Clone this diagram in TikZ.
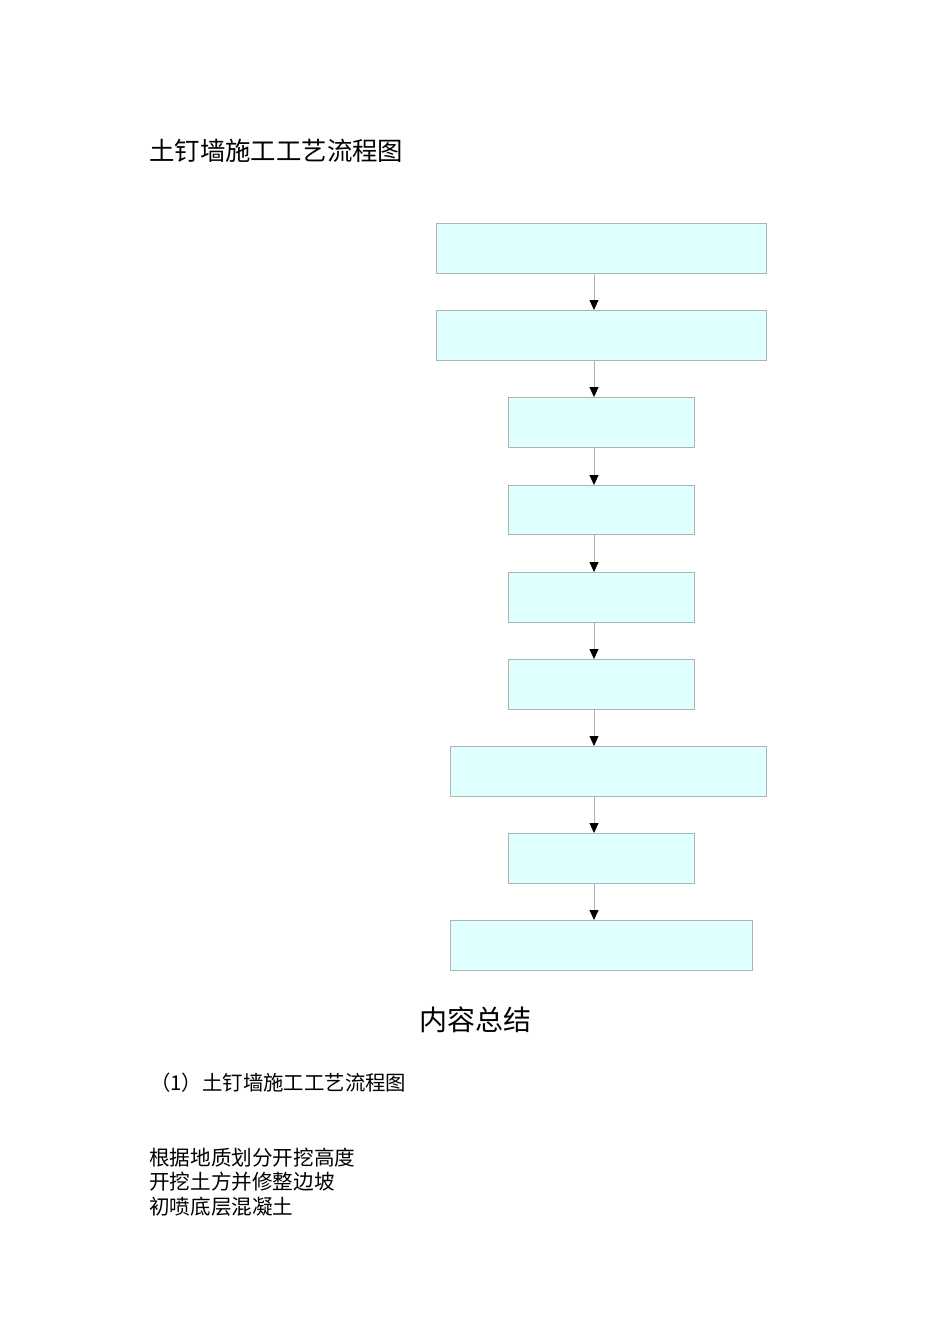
\documentclass[tikz,border=0pt]{standalone}
\usepackage{fontspec}
\newfontfamily\cjk{Noto Sans CJK SC}
\usetikzlibrary{arrows.meta}
\definecolor{boxfill}{HTML}{E0FFFF}
\definecolor{boxline}{HTML}{AEB4B4}
\begin{document}
\begin{tikzpicture}[x=1pt,y=-1pt,
  flowbox/.style={draw=boxline,fill=boxfill,line width=0.8pt},
  flowarrow/.style={draw=boxline,line width=0.8pt,-{Triangle[length=10pt,width=9pt,fill=black,color=black]}},
  txt/.style={inner sep=0pt,anchor=west,font=\cjk}]
\useasboundingbox (0,0) rectangle (950,1344);
\fill[white] (0,0) rectangle (950,1344);
\node[txt,font=\cjk\fontsize{25.4}{28}\selectfont] (title) at (149,151) {土钉墙施工工艺流程图};
% boxes
\draw[flowbox] (436,223) rectangle (766,273); \coordinate (b1) at (594,273);
\draw[flowbox] (436,310) rectangle (766,360); \coordinate (t2) at (594,310); \coordinate (b2) at (594,360);
\draw[flowbox] (508,397) rectangle (694,447); \coordinate (t3) at (594,397); \coordinate (b3) at (594,447);
\draw[flowbox] (508,485) rectangle (694,534); \coordinate (t4) at (594,485); \coordinate (b4) at (594,534);
\draw[flowbox] (508,572) rectangle (694,622); \coordinate (t5) at (594,572); \coordinate (b5) at (594,622);
\draw[flowbox] (508,659) rectangle (694,709); \coordinate (t6) at (594,659); \coordinate (b6) at (594,709);
\draw[flowbox] (450,746) rectangle (766,796); \coordinate (t7) at (594,746); \coordinate (b7) at (594,796);
\draw[flowbox] (508,833) rectangle (694,883); \coordinate (t8) at (594,833); \coordinate (b8) at (594,883);
\draw[flowbox] (450,920) rectangle (752,970); \coordinate (t9) at (594,920);
\draw[flowarrow] (b1) -- (t2);
\draw[flowarrow] (b2) -- (t3);
\draw[flowarrow] (b3) -- (t4);
\draw[flowarrow] (b4) -- (t5);
\draw[flowarrow] (b5) -- (t6);
\draw[flowarrow] (b6) -- (t7);
\draw[flowarrow] (b7) -- (t8);
\draw[flowarrow] (b8) -- (t9);
\node[txt,font=\cjk\fontsize{28}{32}\selectfont] (summary) at (419,1020) {内容总结};
\node[txt,font=\cjk\fontsize{20.4}{24}\selectfont] (item) at (150,1083) {（1）土钉墙施工工艺流程图};
\node[txt,font=\cjk\fontsize{20.6}{24}\selectfont] (l1) at (149,1158) {根据地质划分开挖高度};
\node[txt,font=\cjk\fontsize{20.6}{24}\selectfont] (l2) at (149,1182) {开挖土方并修整边坡};
\node[txt,font=\cjk\fontsize{20.6}{24}\selectfont] (l3) at (149,1207) {初喷底层混凝土};
\end{tikzpicture}
\end{document}
